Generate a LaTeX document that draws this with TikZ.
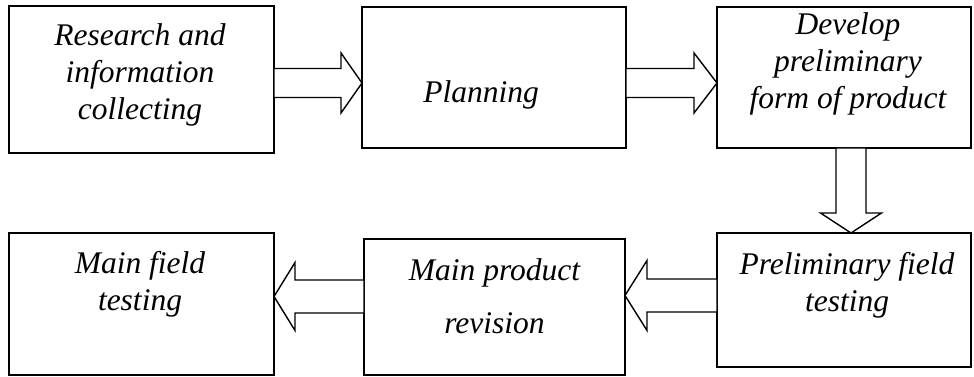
\documentclass[tikz,border=0pt]{standalone}
\usepackage{fontspec}
\setmainfont{Liberation Serif}
\usetikzlibrary{calc}

% block arrow: from anchor, to anchor, centre y, half shaft, half head, head length
\newcommand{\hblock}[6]{%
  \draw[fatarrow] let \p1=(#1), \p2=(#2) in
    (\x1,{(#3+#4)*1pt}) -- ({\x2-(#6)*1pt},{(#3+#4)*1pt}) -- ({\x2-(#6)*1pt},{(#3+#5)*1pt})
    -- (\x2,{#3*1pt}) -- ({\x2-(#6)*1pt},{(#3-#5)*1pt}) -- ({\x2-(#6)*1pt},{(#3-#4)*1pt})
    -- (\x1,{(#3-#4)*1pt}) -- cycle;}

\begin{document}
\begin{tikzpicture}[x=1pt,y=1pt,
    stage/.style={draw,line width=1.8pt,inner sep=0pt,outer sep=0pt},
    stagetext/.style={align=center,inner sep=0pt,font=\fontsize{31.5}{37}\selectfont\itshape},
    fatarrow/.style={draw,line width=1.4pt,fill=white,line join=miter}]
  \useasboundingbox (0,0) rectangle (974,377);

  % top row
  \node[stage,minimum width=265pt,minimum height=147pt] (research) at (141.5,297.5) {};
  \node[stage,minimum width=264pt,minimum height=141pt] (planning) at (494,299.5) {};
  \node[stage,minimum width=254pt,minimum height=141pt] (develop)  at (844,299.5) {};

  % bottom row
  \node[stage,minimum width=254pt,minimum height=134pt] (prelim)   at (844,77) {};
  \node[stage,minimum width=261pt,minimum height=136pt] (revision) at (494.5,70) {};
  \node[stage,minimum width=265pt,minimum height=142pt] (mainfield) at (141.5,73) {};

  % texts
  \node[stagetext] (research-text)  at (140,302.5)   {Research and\\information\\collecting};
  \node[stagetext] (planning-text)  at (481,282)     {Planning};
  \node[stagetext] (develop-text)   at (848,312.6)   {Develop\\preliminary\\form of product};
  \node[stagetext] (prelim-text)    at (847,91.6)    {Preliminary field\\testing};
  \node[stagetext] (revision-text)  at (494.5,81)    {Main product\\[16pt]revision};
  \node[stagetext] (mainfield-text) at (140,93)      {Main field\\testing};

  % arrows
  \hblock{research.east}{planning.west}{294}{14.5}{30}{21}
  \hblock{planning.east}{develop.west}{294}{14.5}{30}{23}
  \draw[fatarrow] let \p1=(develop.south), \p2=(prelim.north) in
    (836pt,\y1) -- (836pt,{\y2+20pt}) -- (820.5pt,{\y2+20pt}) -- (851pt,\y2)
    -- (881.5pt,{\y2+20pt}) -- (866pt,{\y2+20pt}) -- (866pt,\y1) -- cycle;
  \hblock{prelim.west}{revision.east}{81.5}{16.5}{35}{-22}
  \hblock{revision.west}{mainfield.east}{80.5}{16.5}{34}{-21}
\end{tikzpicture}
\end{document}
